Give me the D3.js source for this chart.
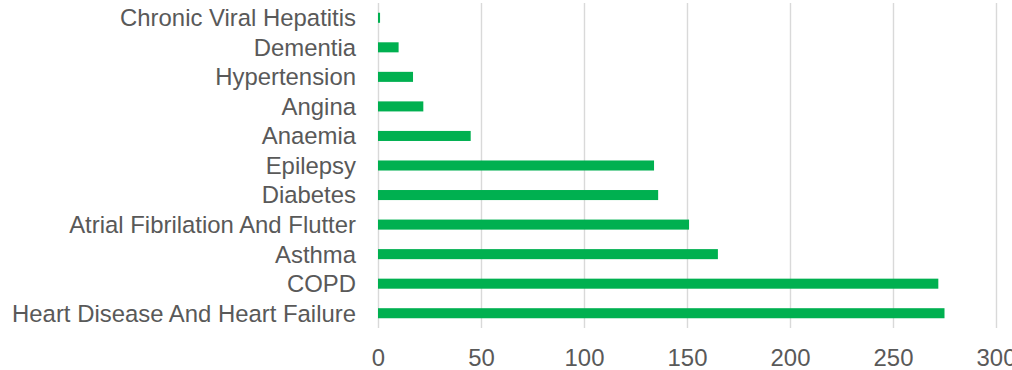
<!DOCTYPE html>
<html>
<head>
<meta charset="utf-8">
<script src="https://cdn.jsdelivr.net/npm/d3@7"></script>
<style>
  html, body { margin: 0; padding: 0; background: #ffffff; }
  svg { display: block; font-family: "Liberation Sans", Arial, sans-serif; }
</style>
</head>
<body>
<svg id="chart" width="1012" height="370"></svg>
<script>
// Conditions, listed top to bottom
const categories = [
  "Chronic Viral Hepatitis",
  "Dementia",
  "Hypertension",
  "Angina",
  "Anaemia",
  "Epilepsy",
  "Diabetes",
  "Atrial Fibrilation And Flutter",
  "Asthma",
  "COPD",
  "Heart Disease And Heart Failure"
];
const counts = [1, 10, 17, 22, 45, 134, 136, 151, 165, 272, 275];
const xTicks = [0, 50, 100, 150, 200, 250, 300];

const data = categories.map((c, i) => ({ name: c, value: counts[i] }));

const svg = d3.select("#chart");
const plot = { left: 378, right: 996, top: 3, bottom: 328 };
const fontSize = "23.9px";

const x = d3.scaleLinear().domain([0, 300]).range([plot.left, plot.right]);
const y = d3.scaleBand()
  .domain(categories)
  .range([plot.top, plot.bottom])
  .paddingInner(0.66)
  .paddingOuter(0.33);

// Vertical gridlines and value labels
const xAxis = svg.append("g")
  .attr("transform", `translate(0,${plot.bottom})`)
  .call(d3.axisBottom(x)
    .tickValues(xTicks)
    .tickSize(-(plot.bottom - plot.top))
    .tickPadding(21)
    .tickFormat(d3.format("d")));
xAxis.select(".domain").remove();
xAxis.selectAll(".tick line").attr("stroke", "#d9d9d9").attr("stroke-width", 1.4);
xAxis.selectAll(".tick text")
  .attr("fill", "#595959")
  .style("font-size", fontSize)
  .style("font-family", "'Liberation Sans', Arial, sans-serif");

// Bars
svg.append("g")
  .selectAll("rect")
  .data(data)
  .join("rect")
  .attr("x", x(0))
  .attr("y", d => y(d.name))
  .attr("width", d => x(d.value) - x(0))
  .attr("height", y.bandwidth())
  .attr("fill", "#00b050");

// Category labels
svg.append("g")
  .selectAll("text")
  .data(data)
  .join("text")
  .attr("x", 356)
  .attr("y", d => y(d.name) + y.bandwidth() / 2)
  .attr("dy", "0.35em")
  .attr("text-anchor", "end")
  .attr("fill", "#595959")
  .style("font-size", fontSize)
  .text(d => d.name);
</script>
</body>
</html>
